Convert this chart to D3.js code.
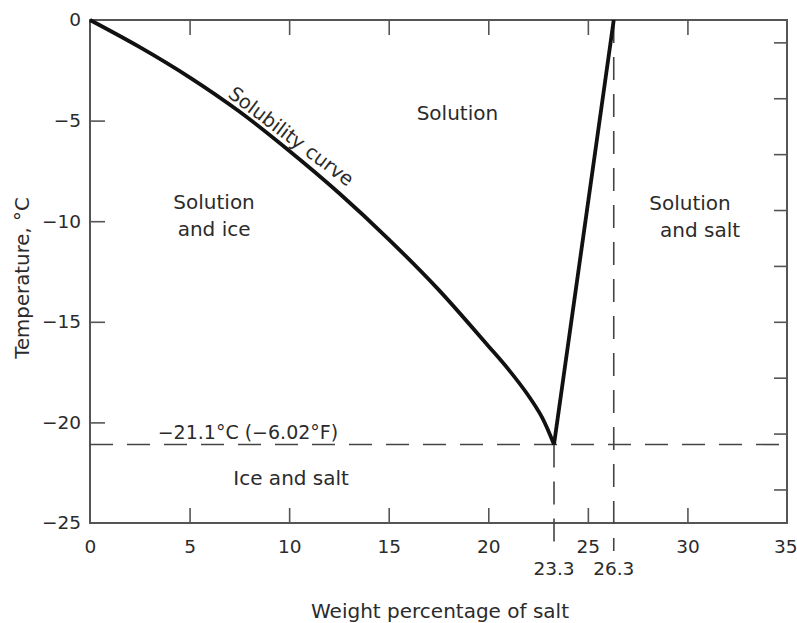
<!DOCTYPE html>
<html>
<head>
<meta charset="utf-8">
<script src="https://cdn.jsdelivr.net/npm/d3@7"></script>
<style>
  body { margin: 0; background: #fff; }
  text { font-family: "DejaVu Sans", sans-serif; fill: #2b2b2b; }
</style>
</head>
<body>
<svg id="chart" width="797" height="623"></svg>
<script>
// values
const xTicks = [0, 5, 10, 15, 20, 25, 30, 35];
const yTicks = [0, -5, -10, -15, -20, -25];
const rightTicksF = [30, 25, 20, 15, 10, 5, 0, -5, -10];   // unlabelled °F ticks
const curvePct = [0, 2.5, 5, 7.5, 10, 12.5, 15, 17.5, 20, 21, 22, 22.7, 23.3];
const curveTemp = [0, -1.35, -2.85, -4.55, -6.5, -8.6, -10.9, -13.4, -16.2, -17.35, -18.65, -19.75, -21.1];
const saltLinePct = [23.3, 26.3];
const saltLineTemp = [-21.1, 0];
const eutecticTemp = -21.1;
const eutecticPct = 23.3;
const saturatedPct = 26.3;
const regions = [
  { lines: ["Solution"], x: 18.45, y: -4.97, indent: 0 },
  { lines: ["Solution", "and ice"], x: 6.23, y: -9.39, indent: 0 },
  { lines: ["Solution", "and salt"], x: 30.13, y: -9.45, indent: 10 },
  { lines: ["Ice and salt"], x: 10.1, y: -23.1, indent: 0 },
];

const svg = d3.select("#chart");
const x = d3.scaleLinear().domain([0, 35]).range([90, 787]);
const y = d3.scaleLinear().domain([-25, 0]).range([523, 20]);
const axisColor = "#555";
const font = '"DejaVu Sans", sans-serif';

// bottom axis, ticks pointing in
const bottomAxis = svg.append("g")
  .attr("transform", `translate(0,${y(-25)})`)
  .call(d3.axisBottom(x).tickValues(xTicks).tickSizeInner(-15).tickSizeOuter(0).tickPadding(17));
// top axis, no labels
const topAxis = svg.append("g")
  .attr("transform", `translate(0,${y(0)})`)
  .call(d3.axisTop(x).tickValues(xTicks.slice(1, -1)).tickSizeInner(-15).tickSizeOuter(0).tickFormat(""));
// left axis
const leftAxis = svg.append("g")
  .attr("transform", `translate(${x(0)},0)`)
  .call(d3.axisLeft(y).tickValues(yTicks).tickSizeInner(-15).tickSizeOuter(0).tickPadding(9)
    .tickFormat(d => d < 0 ? "\u2212" + Math.abs(d) : d));
// right axis in Fahrenheit
const rightAxis = svg.append("g")
  .attr("transform", `translate(${x(35)},0)`)
  .call(d3.axisRight(y).tickValues(rightTicksF.map(f => (f - 32) * 5 / 9))
    .tickSizeInner(-13).tickSizeOuter(0).tickFormat(""));

[bottomAxis, topAxis, leftAxis, rightAxis].forEach(g => {
  g.select(".domain").remove();
  g.selectAll("line").attr("stroke", axisColor).attr("stroke-width", 1.6);
  g.selectAll("text").attr("font-size", 18.5).attr("fill", "#2b2b2b").style("font-family", font);
});
bottomAxis.selectAll(".tick").filter(d => d === 0 || d === 35).select("line").remove();
leftAxis.selectAll(".tick").filter(d => d === 0 || d === -25).select("line").remove();
// last label sits at the page edge, keep it inside
bottomAxis.selectAll(".tick").filter(d => d === 35).select("text").attr("text-anchor", "end").attr("x", 10);

// frame
svg.append("rect")
  .attr("x", x(0)).attr("y", y(0))
  .attr("width", x(35) - x(0)).attr("height", y(-25) - y(0))
  .attr("fill", "none").attr("stroke", axisColor).attr("stroke-width", 2);

// dashed guide lines
const dash = "23,14";
svg.append("line")
  .attr("x1", x(0)).attr("x2", x(35))
  .attr("y1", y(eutecticTemp)).attr("y2", y(eutecticTemp))
  .attr("stroke", "#444").attr("stroke-width", 1.6).attr("stroke-dasharray", dash);
svg.append("line")
  .attr("x1", x(eutecticPct)).attr("x2", x(eutecticPct))
  .attr("y1", y(eutecticTemp)).attr("y2", y(-25) + 28)
  .attr("stroke", "#444").attr("stroke-width", 1.6).attr("stroke-dasharray", dash);
svg.append("line")
  .attr("x1", x(saturatedPct)).attr("x2", x(saturatedPct))
  .attr("y1", y(0)).attr("y2", y(-25) + 28)
  .attr("stroke", "#444").attr("stroke-width", 1.6).attr("stroke-dasharray", dash);

// solubility curve and salt line
const curveLine = d3.line().x(d => x(d[0])).y(d => y(d[1])).curve(d3.curveCatmullRom.alpha(0.5));
svg.append("path")
  .attr("d", curveLine(d3.zip(curvePct, curveTemp)))
  .attr("fill", "none").attr("stroke", "#111").attr("stroke-width", 3.8);
svg.append("path")
  .attr("d", d3.line().x(d => x(d[0])).y(d => y(d[1]))(d3.zip(saltLinePct, saltLineTemp)))
  .attr("fill", "none").attr("stroke", "#111").attr("stroke-width", 3.8);

// labels under the axis for the special percentages
[eutecticPct, saturatedPct].forEach(p => {
  svg.append("text")
    .attr("x", x(p)).attr("y", 575)
    .attr("text-anchor", "middle").attr("font-size", 18.5)
    .text(p.toFixed(1));
});

// region labels
regions.forEach(r => {
  const t = svg.append("text")
    .attr("x", x(r.x)).attr("y", y(r.y))
    .attr("text-anchor", "middle").attr("font-size", 20);
  r.lines.forEach((s, i) => {
    t.append("tspan").attr("x", x(r.x) + (i ? r.indent : 0)).attr("dy", i ? 27 : 0).text(s);
  });
});

svg.append("text")
  .attr("x", x(7.93)).attr("y", y(eutecticTemp) - 6)
  .attr("text-anchor", "middle").attr("font-size", 19)
  .text("\u221221.1\u00b0C (\u22126.02\u00b0F)");

svg.append("text")
  .attr("transform", `translate(${x(9.9)},${y(-6.05)}) rotate(37)`)
  .attr("text-anchor", "middle").attr("font-size", 19.5)
  .text("Solubility curve");

// axis titles
svg.append("text")
  .attr("x", 440).attr("y", 618)
  .attr("text-anchor", "middle").attr("font-size", 20)
  .text("Weight percentage of salt");
svg.append("text")
  .attr("transform", "translate(29,278) rotate(-90)")
  .attr("text-anchor", "middle").attr("font-size", 19.8)
  .text("Temperature, \u00b0C");
</script>
</body>
</html>
